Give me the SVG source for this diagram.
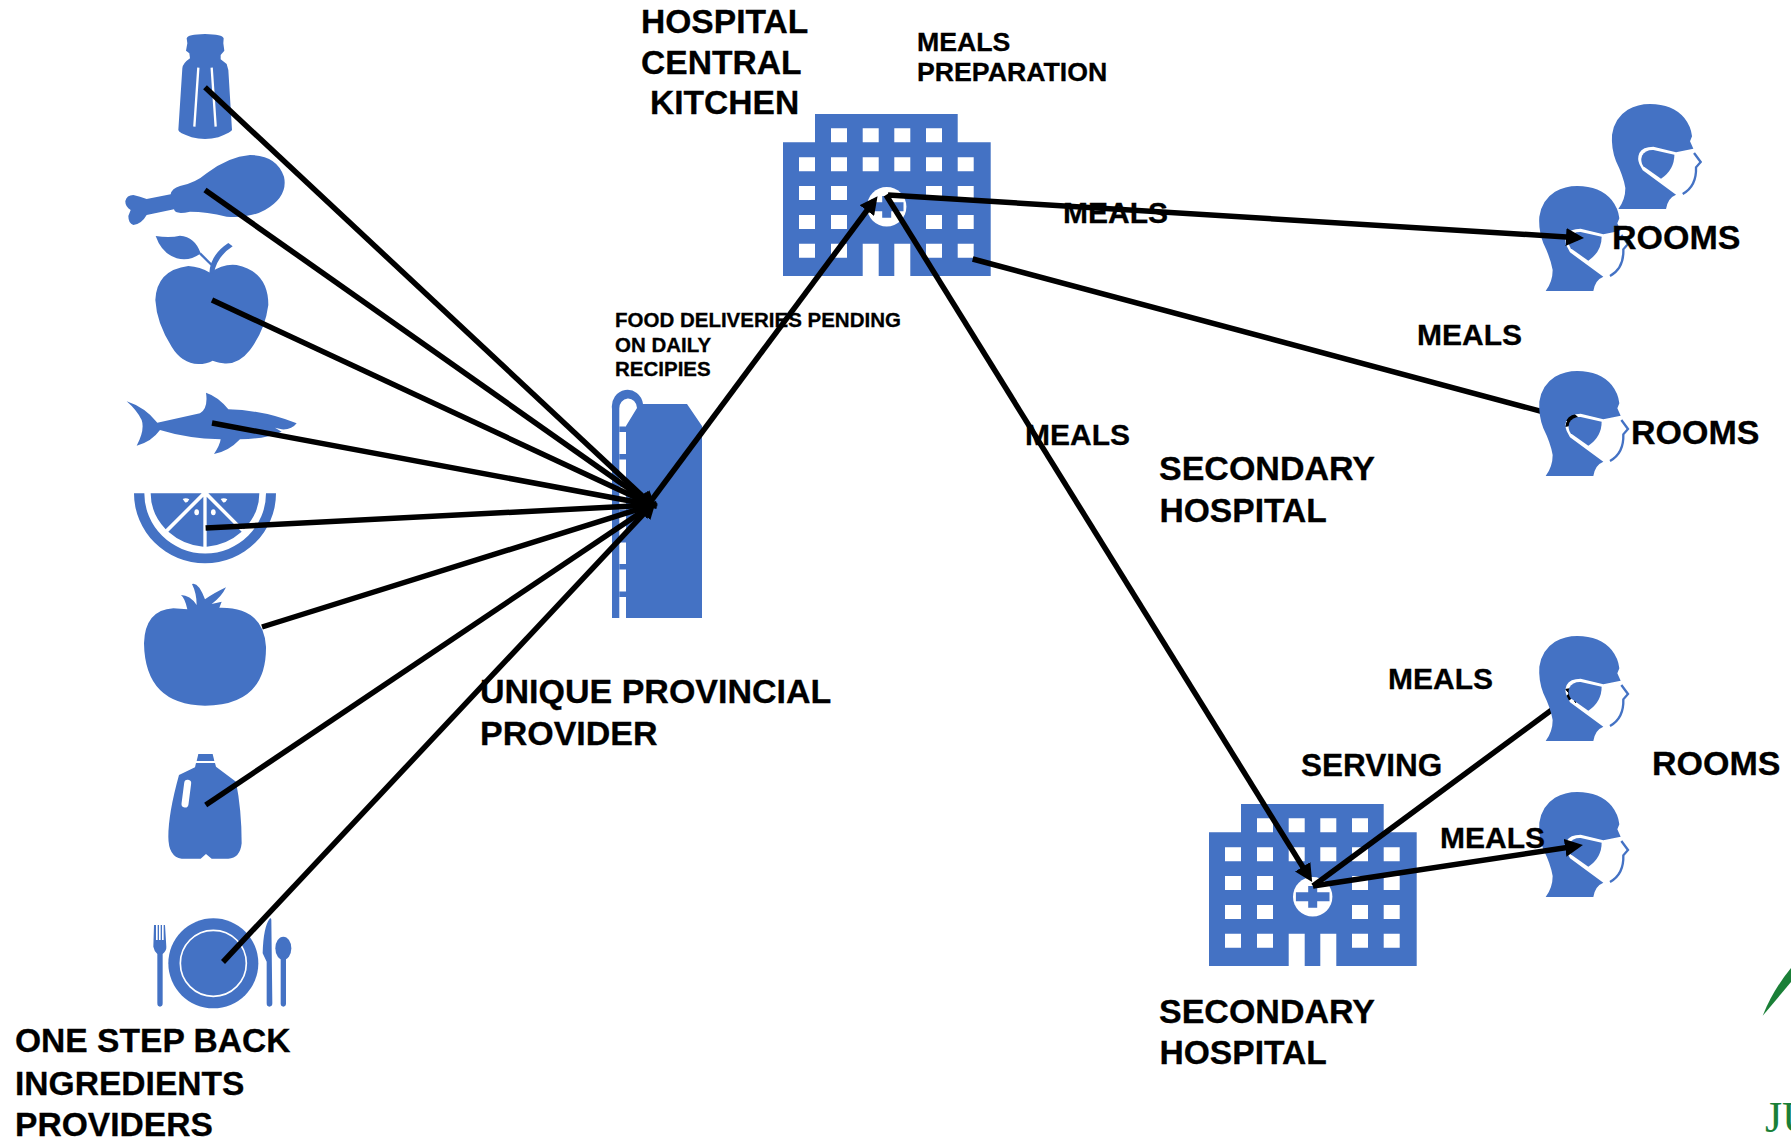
<svg xmlns="http://www.w3.org/2000/svg" xmlns:xlink="http://www.w3.org/1999/xlink" width="1791" height="1140" viewBox="0 0 1791 1140">
<style>
.ic{fill:#4472c4}
.w{fill:#fff}
.ws{fill:none;stroke:#fff}
.c{stroke:#000;stroke-width:5.500;fill:none}
.a{marker-end:url(#ah)}
text{font-family:"Liberation Sans",Arial,sans-serif;font-weight:700;fill:#000;stroke:#000;stroke-width:.3px}
.l{font-size:34px}
.k{font-size:33.600px}
.m{font-size:30px}
.p{font-size:26.700px}
.v{font-size:31.500px}
.s{font-size:20.500px}
</style>
<defs>
<marker id="ah" markerUnits="userSpaceOnUse" markerWidth="18" markerHeight="18" refX="12" refY="9" orient="auto"><path d="M0,0L18,9L0,18Z" fill="#000"/></marker>
<g id="hosp">
<path class="ic" d="M783,142.300H815V114H957.700V142.300H990.700V276H910.300V243.700H894.300V276H878.700V243.700H862.700V276H783Z"/>
<path class="w" d="M831,128.300h16v14h-16zM862.700,128.300h16v14h-16zM894.300,128.300h16v14h-16zM926,128.300h16v14h-16zM799,157.300h16v14h-16zM831,157.300h16v14h-16zM862.700,157.300h16v14h-16zM894.300,157.300h16v14h-16zM926,157.300h16v14h-16zM957.700,157.300h16v14h-16zM799,186h16v14h-16zM831,186h16v14h-16zM926,186h16v14h-16zM957.700,186h16v14h-16zM799,215h16v14h-16zM831,215h16v14h-16zM926,215h16v14h-16zM957.700,215h16v14h-16zM799,243.700h16v14h-16zM831,243.700h16v14h-16zM926,243.700h16v14h-16zM957.700,243.700h16v14h-16z"/>
<circle class="w" cx="886.700" cy="206.700" r="19.700"/>
<path class="ic" d="M882.200,196h9v6.200h12.300v9h-12.300v6.500h-9v-6.500h-12.300v-9h12.300z"/>
</g>
<g id="head">
<path class="ic" d="M77,363Q98,335 98,300Q92,265 70,220Q55,180 58,140Q65,90 105,65Q135,48 172,48Q240,48 275,90Q295,115 298,145L292,160L302,182L250,193L182,176Q150,176 140,195Q133,212 140,228L150,247L250,320Q225,330 220,363Z"/>
<path class="ic" d="M245,200Q245,245 205,272L152,235Q142,220 148,203Q158,185 182,186Z"/>
<path d="M304,195L324,222L310,238Q312,295 270,318" fill="none" stroke="#4472c4" stroke-width="7"/>
</g>
</defs>

<g id="salt" transform="translate(100,0) scale(.33333)">
<path class="ic" d="M260,115Q262,103 315,102Q368,103 371,115L370,130L373,152L362,165V178L380,192L385,210L396,390Q396,395 355,412Q315,422 275,412Q235,398 235,390L247,205Q248,190 270,175L268,160L258,152L262,130Z"/>
<path class="ws" stroke-width="7" d="M295,203L283,380M335,203L347,380"/>
</g>
<g id="chicken" transform="translate(100,0) scale(.33333)">
<path class="ic" d="M76,603Q80,585 100,585Q120,590 140,597L212,583Q215,565 240,558Q285,550 320,520Q385,470 450,465Q530,465 552,530Q565,590 495,630Q450,655 380,650Q320,635 270,635Q225,645 222,628L140,645Q125,672 100,675Q85,670 85,648L92,630Q75,620 76,603Z"/>
</g>
<g id="apple" transform="translate(100,0) scale(.33333)">
<path class="ic" d="M166,900Q170,810 265,798Q300,800 330,818Q370,790 410,795Q505,815 505,915Q495,990 450,1050Q415,1095 370,1090Q345,1085 338,1082Q320,1092 295,1092Q245,1090 215,1040Q170,970 166,900Z"/>
<path class="ic" d="M167,708Q210,715 240,707Q285,710 302,760Q270,785 230,775Q185,760 167,708Z"/>
<path class="ic" d="M328,820Q330,765 385,729L398,739Q350,770 342,820Z"/>
<path d="M300,760L335,795" stroke="#4472c4" stroke-width="7" fill="none"/>
</g>
<g id="shark" transform="translate(100,380) scale(.33333)">
<path class="ic" d="M80,64Q135,82 172,128L300,100Q325,85 318,38Q355,50 385,88Q490,90 590,130Q575,150 545,148L525,143L545,155Q490,178 420,178Q385,215 342,222Q360,195 362,178Q260,175 180,150Q155,185 110,197Q135,150 125,120Q110,90 80,64Z"/>
</g>
<g id="lime" transform="translate(100,380) scale(.33333)">
<path class="ic" d="M102,340H133A182,180 0 0 0 498,340H528A213,210 0 0 1 102,340Z"/>
<path class="ic" d="M152,340H305L197,448Q152,400 152,340ZM205,455L310,350V500Q250,495 205,455ZM320,350L425,455Q380,495 320,500ZM325,340H478Q478,400 432,448Z"/>
<path class="w" d="M248,357Q258,352 268,358Q262,370 255,367ZM362,357Q372,352 382,358Q376,370 369,367Z"/>
<ellipse class="w" cx="290" cy="397" rx="7" ry="9"/>
<ellipse class="w" cx="340" cy="397" rx="7" ry="9"/>
</g>
<g id="bottle" transform="translate(100,740) scale(.33333)">
<path class="ic" d="M290,63L295,42H338L343,63Z"/>
<path class="ic" d="M288,69H345L348,80L408,125Q425,210 425,310Q420,355 385,356H335L318,342L302,356H245Q205,350 205,290Q205,220 237,105L285,82Z"/>
<path d="M263,130L255,192" stroke="#fff" stroke-width="21" stroke-linecap="round" fill="none"/>
</g>
<g id="plate" transform="translate(100,740) scale(.33333)">
<circle class="ic" cx="340" cy="670" r="135"/>
<circle class="ws" cx="340" cy="670" r="99" stroke-width="5"/>
<path class="ic" d="M162,555L160,620Q163,635 172,642V790Q172,800 180,800Q188,800 188,790V642Q200,632 199,620L195,555H191V600H186V555H182V600H177V555H173V600H168V555Z"/>
<path class="ic" d="M510,535Q490,560 488,640L500,665V790Q500,800 508,800Q517,800 517,790L514,540Q514,533 510,535Z"/>
<ellipse class="ic" cx="550" cy="625" rx="24" ry="35"/>
<path class="ic" d="M542,650H558V790Q558,800 550,800Q542,800 542,790Z"/>
</g>
<g id="provider">
<path class="ic" d="M612,618V409A15.500,16.500 0 0 1 643,404H687L702,426V618Z"/>
<path class="w" d="M619.300,618V409A8,9 0 0 1 637,408L626,426V618Z"/>
<path class="ic" d="M619.300,426.500h7v5.500h-7zM619.300,454h7v5.500h-7zM619.300,481.700h7v5.500h-7zM619.300,509.400h7v5.500h-7zM619.300,537h7v5.500h-7zM619.300,564h7v5.500h-7zM619.300,591.500h7v5.500h-7z"/>
</g>
<g id="kitchen"><use xlink:href="#hosp" href="#hosp"/></g>
<g id="secondary-hospital"><use xlink:href="#hosp" href="#hosp" transform="translate(426,690)"/></g>
<g id="room-a"><use xlink:href="#head" href="#head" transform="translate(1592.700,88) scale(.33333)"/></g>
<g id="room-b"><use xlink:href="#head" href="#head" transform="translate(1520,170) scale(.33333)"/></g>
<g id="room-e"><use xlink:href="#head" href="#head" transform="translate(1520,776) scale(.33333)"/></g>

<g id="connectors" class="c">
<path class="a" d="M205,87.300L652,505"/>
<path class="a" d="M205,190L652,505"/>
<path class="a" d="M212,300L652,505"/>
<path class="a" d="M212,423L652,505"/>
<path class="a" d="M205.600,528L652,505"/>
<path class="a" d="M262,627L652,505"/>
<path class="a" d="M205.700,805L652,505"/>
<path class="a" d="M223,962L652,505"/>
<path class="a" d="M648,505L874,201"/>
<path class="a" d="M888,195L1578,237.700"/>
<path class="a" d="M972.700,259L1579,421.500"/>
<path class="a" d="M886,195L1309,877"/>
<path class="a" d="M1313,886L1580,689"/>
<path class="a" d="M1313,886L1577,846"/>
</g>

<g id="tomato" transform="translate(100,380) scale(.33333)">
<path class="ic" d="M132,790Q135,690 220,685L262,688Q255,655 243,645Q270,645 290,675Q290,640 276,612Q295,605 315,658Q340,640 378,622Q365,650 335,672L365,665L358,683Q490,680 498,800Q500,975 315,977Q135,975 132,790Z"/>
</g>
<g id="room-c"><use xlink:href="#head" href="#head" transform="translate(1520,355) scale(.33333)"/></g>
<g id="room-d"><use xlink:href="#head" href="#head" transform="translate(1520,620) scale(.33333)"/></g>
<g id="logo">
<path d="M1762.700,1015.700Q1773,990 1791,968V982Q1776,1000 1762.700,1015.700Z" fill="#1a7f37"/>
<text x="1765" y="1132" font-size="44" style="font-family:'Liberation Serif',serif;font-weight:400;fill:#1a7f37;stroke:none">JU</text>
</g>

<g id="labels">
<text class="k" x="641" y="33">HOSPITAL</text>
<text class="k" x="641" y="74">CENTRAL</text>
<text class="k" x="650" y="114">KITCHEN</text>
<text class="p" x="917" y="51">MEALS</text>
<text class="p" x="917" y="81">PREPARATION</text>
<text class="s" x="615" y="327">FOOD DELIVERIES PENDING</text>
<text class="s" x="615" y="351.700">ON DAILY</text>
<text class="s" x="615" y="376">RECIPIES</text>
<text class="m" x="1063" y="223">MEALS</text>
<text class="m" x="1417" y="345">MEALS</text>
<text class="m" x="1025" y="445">MEALS</text>
<text class="l" x="1159" y="480">SECONDARY</text>
<text class="k" x="1159.500" y="522">HOSPITAL</text>
<text class="l" x="1612" y="249">ROOMS</text>
<text class="l" x="1631" y="444">ROOMS</text>
<text class="l" x="480" y="703">UNIQUE PROVINCIAL</text>
<text class="l" x="480" y="745">PROVIDER</text>
<text class="m" x="1388" y="689">MEALS</text>
<text class="v" x="1301" y="776">SERVING</text>
<text class="l" x="1652" y="775">ROOMS</text>
<text class="m" x="1440" y="848">MEALS</text>
<text class="l" x="1159" y="1023">SECONDARY</text>
<text class="k" x="1159.500" y="1064">HOSPITAL</text>
<text class="k" x="15" y="1052">ONE STEP BACK</text>
<text class="k" x="15" y="1095">INGREDIENTS</text>
<text class="k" x="15" y="1136">PROVIDERS</text>
</g>
</svg>
